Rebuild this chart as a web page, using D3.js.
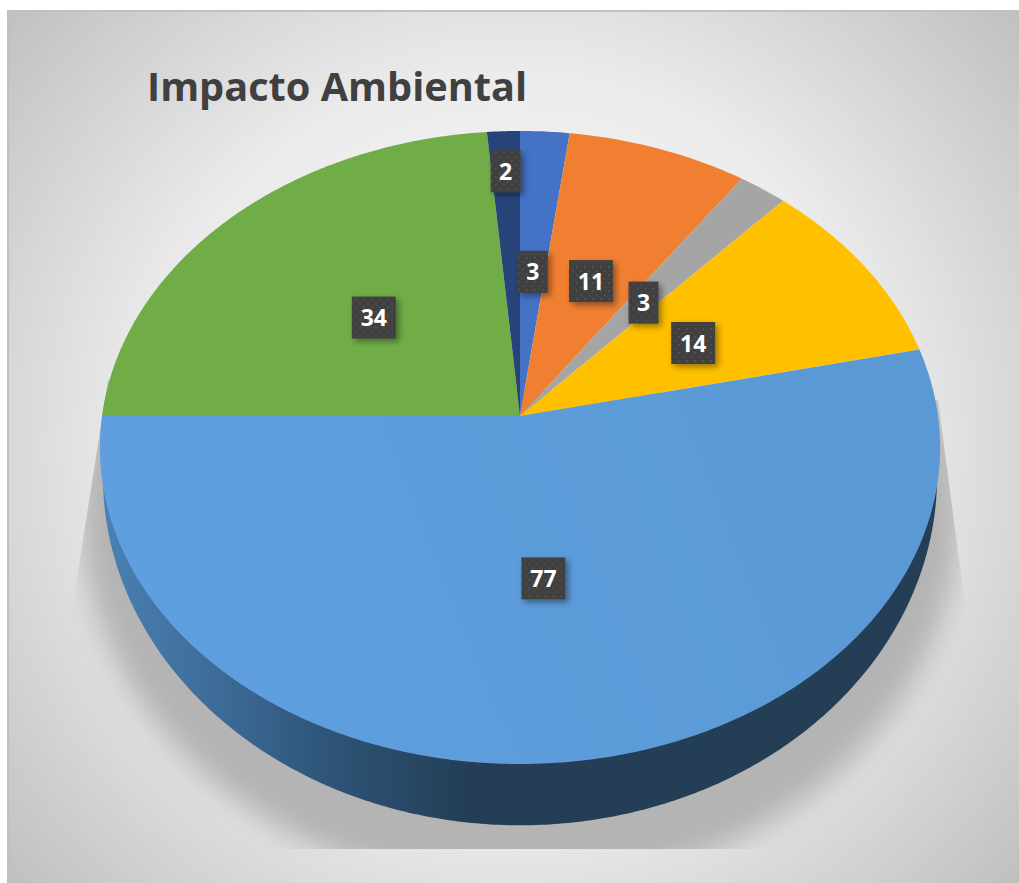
<!DOCTYPE html>
<html>
<head>
<meta charset="utf-8">
<script src="https://cdn.jsdelivr.net/npm/d3@7"></script>
<style>
  html, body { margin: 0; padding: 0; background: #fff; overflow: hidden; }
  svg { display: block; }
</style>
</head>
<body>
<svg id="chart" width="1019" height="883"></svg>
<script>
var title = "Impacto Ambiental";
var values = [3, 11, 3, 14, 77, 34, 2];
var colors = ["#4472c4", "#f07f32", "#a5a5a5", "#ffc000", "url(#bigSlice)", "#70ad47", "#264478"];
// how far along the radius each label sits (the "2" was dragged outwards)
var labelRadius = [0.49, 0.49, 0.49, 0.49, 0.49, 0.49, 0.855];

var svg = d3.select("#chart");
var defs = svg.append("defs");

// tilted disc: unit circle -> screen, with perspective
var persp = 0.0995;
function projector(cx, cy, a, b) {
  return function (r, angle) {
    var X = r * Math.sin(angle), Y = r * Math.cos(angle), w = 1 + persp * Y;
    return [cx + b * X / w, cy - a * Y / w];
  };
}
var top_ = projector(520, 416, 313.4, 418);
var bottom_ = projector(520, 441.6, 345.5, 415);

var line = d3.line();
function sample(a0, a1) {
  var n = Math.max(2, Math.ceil((a1 - a0) / 0.01));
  return d3.range(n + 1).map(function (i) { return a0 + (a1 - a0) * i / n; });
}

// background
var bg = defs.append("radialGradient").attr("id", "bg")
  .attr("gradientUnits", "userSpaceOnUse")
  .attr("cx", 512).attr("cy", 445).attr("r", 680);
bg.append("stop").attr("offset", 0).attr("stop-color", "#ffffff");
bg.append("stop").attr("offset", 0.55).attr("stop-color", "#ebebeb");
bg.append("stop").attr("offset", 1).attr("stop-color", "#bebebe");

var big = defs.append("linearGradient").attr("id", "bigSlice")
  .attr("gradientUnits", "userSpaceOnUse")
  .attr("x1", 200).attr("y1", 700).attr("x2", 900).attr("y2", 420);
big.append("stop").attr("offset", 0).attr("stop-color", "#5f9fdf");
big.append("stop").attr("offset", 1).attr("stop-color", "#5a99d4");

var wallGrad = defs.append("linearGradient").attr("id", "wall")
  .attr("gradientUnits", "userSpaceOnUse")
  .attr("x1", 105).attr("y1", 0).attr("x2", 470).attr("y2", 0);
[[0, "#4a80b3"], [0.3, "#3d6c98"], [0.6, "#2f5579"], [1, "#233e55"]].forEach(function (s) {
  wallGrad.append("stop").attr("offset", s[0]).attr("stop-color", s[1]);
});

defs.append("filter").attr("id", "blur")
  .attr("x", "-10%").attr("y", "-10%").attr("width", "120%").attr("height", "120%")
  .append("feGaussianBlur").attr("stdDeviation", 14);

var shadow = defs.append("filter").attr("id", "boxShadow")
  .attr("x", "-30%").attr("y", "-30%").attr("width", "170%").attr("height", "170%");
shadow.append("feDropShadow").attr("dx", 3).attr("dy", 3).attr("stdDeviation", 3)
  .attr("flood-color", "#000").attr("flood-opacity", 0.4);

var dots = defs.append("pattern").attr("id", "dots")
  .attr("patternUnits", "userSpaceOnUse").attr("width", 8).attr("height", 8);
dots.append("rect").attr("width", 8).attr("height", 8).attr("fill", "#404040");
dots.append("circle").attr("cx", 2).attr("cy", 2).attr("r", 1).attr("fill", "#565656");
dots.append("circle").attr("cx", 6).attr("cy", 6).attr("r", 1).attr("fill", "#4e4e4e");

defs.append("clipPath").attr("id", "shadowClip").append("path")
  .attr("d", line([[108, 380], [938, 400], [968, 627], [968, 849], [70, 849], [72, 610]]));

// chart area runs off the right and bottom of the picture
svg.append("rect").attr("x", 8).attr("y", 11).attr("width", 1020).attr("height", 890)
  .attr("fill", "url(#bg)").attr("stroke", "#bfbfbf").attr("stroke-width", 2);

// floor shadow
svg.append("g").attr("clip-path", "url(#shadowClip)")
  .append("ellipse").attr("cx", 520).attr("cy", 510).attr("rx", 440).attr("ry", 380)
  .attr("fill", "#b4b4b4").attr("filter", "url(#blur)");

var pie = d3.pie().sort(null).value(function (d) { return d; });
var arcs = pie(values);

// side wall, only the front part of it can be seen
var wallStart = Math.acos(-persp);
var wallPts = sample(wallStart, 2 * Math.PI - wallStart).map(function (a) { return bottom_(1, a); });
svg.append("path").attr("d", line(wallPts) + "Z").attr("fill", "url(#wall)");

svg.append("g").selectAll("path").data(arcs).enter().append("path")
  .attr("fill", function (d, i) { return colors[i]; })
  .attr("d", function (d) {
    var pts = sample(d.startAngle, d.endAngle).map(function (a) { return top_(1, a); });
    return line([top_(0, 0)].concat(pts)) + "Z";
  });

svg.append("text").attr("x", 147).attr("y", 101)
  .attr("font-family", "'Open Sans', sans-serif").attr("font-weight", 700)
  .attr("font-size", 39.7).attr("fill", "#404040").text(title);

var labels = svg.append("g").selectAll("g").data(arcs).enter().append("g")
  .attr("transform", function (d, i) {
    var p = top_(labelRadius[i], (d.startAngle + d.endAngle) / 2);
    return "translate(" + p[0] + "," + (p[1] + 2) + ")";
  });
labels.append("rect")
  .attr("x", function (d) { return d.value > 9 ? -22 : -15; })
  .attr("width", function (d) { return d.value > 9 ? 44 : 30; })
  .attr("y", -21).attr("height", 42)
  .attr("fill", "url(#dots)").attr("filter", "url(#boxShadow)");
labels.append("text").attr("text-anchor", "middle").attr("y", 8.5)
  .attr("font-family", "'Open Sans', sans-serif").attr("font-weight", 700)
  .attr("font-size", 23).attr("fill", "#fff")
  .text(function (d) { return d.value; });
</script>
</body>
</html>
